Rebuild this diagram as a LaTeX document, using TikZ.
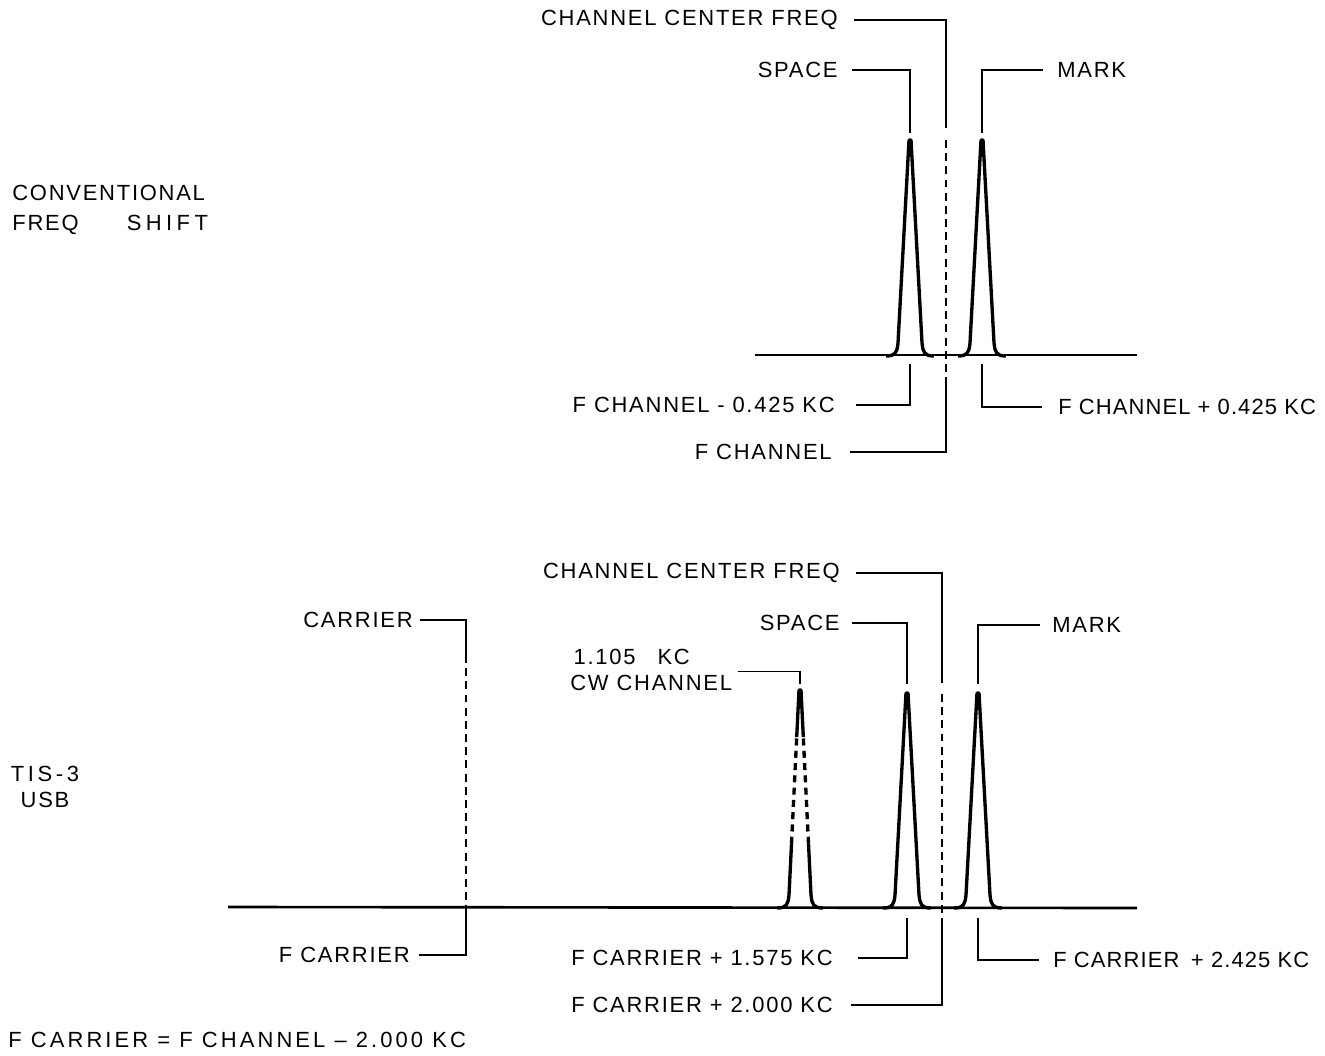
\documentclass[tikz,border=0pt]{standalone}
\usepackage{fontspec}
\setmainfont{Liberation Sans}[LetterSpace=8]
\usetikzlibrary{calc}
\tikzset{
    lbl/.style={inner sep=0pt, font=\fontsize{12.5}{17.5}\selectfont},
    leader/.style={line width=0.7pt},
    peakline/.style={line width=1.9pt, line join=round},
    dashln/.style={line width=1.4pt, dash pattern=on 4.5pt off 3pt},
}
\begin{document}
\begin{tikzpicture}[x=0.02cm, y=-0.02cm]
    \useasboundingbox (0,0) rectangle (1325,1055);

    % conventional freq shift
    \node[lbl, anchor=west, align=left] (conv) at (12,210) {CONVENTIONAL\\FREQ\hspace{2.2em}{\addfontfeature{LetterSpace=20}SHIFT}};
    \draw[line width=1.5pt] (755,355) -- (1137,355);
    \foreach \x in {910, 982}{
        \draw[peakline] (\x-24,356) .. controls (\x-14,356) and (\x-13,352) .. (\x-12,343) -- (\x-1,140) -- (\x+1,140)
            -- (\x+12,343) .. controls (\x+13,352) and (\x+14,356) .. (\x+24,356);
    }
    \coordinate (tsp) at (910,133);
    \coordinate (tmk) at (982,133);
    \coordinate (tc1) at (946,128);
    \coordinate (tc2) at (946,140);
    \coordinate (tc3) at (946,378);
    \coordinate (tspb) at (910,364);
    \coordinate (tmkb) at (982,364);

    \node[lbl, anchor=east] (tccf) at (838,20) {CHANNEL CENTER FREQ};
    \node[lbl, anchor=east] (tspace) at (838,70) {SPACE};
    \node[lbl, anchor=west] (tmark) at (1057,70) {MARK};
    \node[lbl, anchor=east] (tfcm) at (835,405) {F CHANNEL - 0.425 KC};
    \node[lbl, anchor=east] (tfc) at (832,452) {F CHANNEL};
    \node[lbl, anchor=west] (tfcp) at (1058,407) {\addfontfeature{LetterSpace=5}F CHANNEL + 0.425 KC};

    \draw[leader] ([xshift=9pt]tccf.east) -| (tc1);
    \draw[leader] ([xshift=8pt]tspace.east) -| (tsp);
    \draw[leader] ([xshift=-8pt]tmark.west) -| (tmk);
    \draw[dashln] (tc2) -- (tc3);
    \draw[leader] (tc3) |- ([xshift=10pt]tfc.east);
    \draw[leader] (tspb) |- ([xshift=12pt]tfcm.east);
    \draw[leader] (tmkb) |- ([xshift=-9pt]tfcp.west);

    % tis-3 usb
    \node[lbl, align=center] (tis) at (45,787) {T\,I\,S\,-\,3\\[-2.3pt]USB};
    \draw[line width=1.5pt] (228,907) -- (1137,908);
    \foreach \x in {907, 978}{
        \draw[peakline] (\x-24,908) .. controls (\x-14,908) and (\x-13,904) .. (\x-12,895) -- (\x-1,693) -- (\x+1,693)
            -- (\x+12,895) .. controls (\x+13,904) and (\x+14,908) .. (\x+24,908);
    }
    % cw channel, broken flanks
    \coordinate (cwL) at (789,895);
    \coordinate (cwT) at (799,690);
    \coordinate (cwT2) at (801,690);
    \coordinate (cwR) at (811,895);
    \draw[peakline] (777,908) .. controls (787,908) and (788,904) .. (cwL) -- ($(cwL)!0.25!(cwT)$);
    \draw[peakline] ($(cwL)!0.77!(cwT)$) -- (cwT) -- (cwT2) -- ($(cwR)!0.77!(cwT2)$);
    \draw[peakline] ($(cwR)!0.25!(cwT2)$) -- (cwR) .. controls (812,904) and (813,908) .. (823,908);
    \draw[peakline, dash pattern=on 4pt off 3pt] ($(cwL)!0.25!(cwT)$) -- ($(cwL)!0.77!(cwT)$);
    \draw[peakline, dash pattern=on 4pt off 3pt] ($(cwR)!0.25!(cwT2)$) -- ($(cwR)!0.77!(cwT2)$);

    \coordinate (bcar1) at (466,655);
    \coordinate (bcar2) at (466,907);
    \coordinate (bcw) at (800,684);
    \coordinate (bsp) at (907,684);
    \coordinate (bmk) at (978,684);
    \coordinate (bc1) at (942,683);
    \coordinate (bc2) at (942,694);
    \coordinate (bc3) at (942,925);
    \coordinate (bspb) at (907,918);
    \coordinate (bmkb) at (978,918);

    \node[lbl, anchor=east] (bcarrier) at (413,620) {CARRIER};
    \node[lbl, anchor=west, align=left] (bcwch) at (570,670) {\hspace{0.15em}1.105\hspace{1em}KC\\[-2.8pt]CW CHANNEL};
    \node[lbl, anchor=east] (bccf) at (840,573) {CHANNEL CENTER FREQ};
    \node[lbl, anchor=east] (bspace) at (840,623) {SPACE};
    \node[lbl, anchor=west] (bmark) at (1052,625) {MARK};
    \node[lbl, anchor=east] (bfcar) at (410,955) {F CARRIER};
    \node[lbl, anchor=east] (bf1575) at (833,958) {F CARRIER + 1.575 KC};
    \node[lbl, anchor=east] (bf2000) at (833,1005) {F CARRIER + 2.000 KC};
    \node[lbl, anchor=west] (bf2425) at (1053,960) {\addfontfeature{LetterSpace=5}F CARRIER\hspace{0.2em} + 2.425 KC};
    \node[lbl, anchor=west] (note) at (8,1040) {\addfontfeature{LetterSpace=14}F CARRIER = F CHANNEL -- 2.000 KC};

    \draw[leader] ([xshift=4pt]bcarrier.east) -| (bcar1);
    \draw[dashln] (bcar1) -- (bcar2);
    \draw[leader] (bcar2) |- ([xshift=5pt]bfcar.east);
    \draw[leader] ([xshift=3pt,yshift=11pt]bcwch.south east) -| (bcw);
    \draw[leader] ([xshift=9pt]bccf.east) -| (bc1);
    \draw[leader] ([xshift=7pt]bspace.east) -| (bsp);
    \draw[leader] ([xshift=-7pt]bmark.west) -| (bmk);
    \draw[dashln] (bc2) -- (bc3);
    \draw[leader] (bc3) |- ([xshift=10pt]bf2000.east);
    \draw[leader] (bspb) |- ([xshift=14pt]bf1575.east);
    \draw[leader] (bmkb) |- ([xshift=-8pt]bf2425.west);
\end{tikzpicture}
\end{document}
